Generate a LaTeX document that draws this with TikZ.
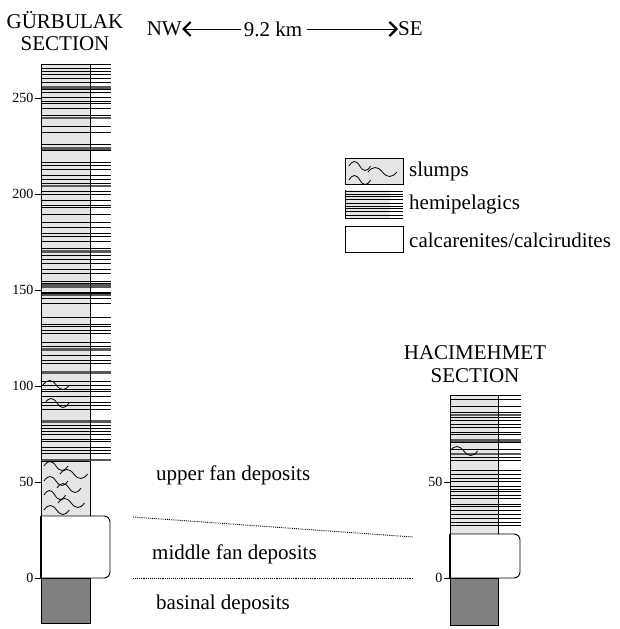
\documentclass[tikz,border=0pt]{standalone}
\usepackage{fontspec}
\setmainfont{Liberation Serif}
\usetikzlibrary{arrows.meta, positioning}
\tikzset{
  lbl/.style={font=\fontsize{21}{22.5}\selectfont, inner sep=0pt, align=center},
  ticklbl/.style={font=\fontsize{14}{15}\selectfont, anchor=east, inner sep=1.5pt},
  hemi/.style={fill=black!10, draw=black, line width=0.9pt},
  hline/.style={draw=black, line width=0.9pt},
  hband/.style={draw=black!65, line width=2.6pt},
  calcbox/.style={fill=white, draw=black, line width=0.9pt, rounded corners=6pt},
  basin/.style={fill=black!50, draw=black, line width=0.9pt},
  wave/.style={draw=black, line width=0.8pt},
  contact/.style={draw=black, densely dotted, line width=0.9pt},
  arrow/.style={-{Straight Barb[length=7pt,width=14pt,line width=2.2pt]}, draw=black, line width=1pt},
  slumpwave/.pic={\draw[wave] (0,0) .. controls (4,-6) and (8,-6) .. (12,0)
                    .. controls (16,6) and (20,6) .. (24,0);},
}

\begin{document}
\begin{tikzpicture}[x=1pt, y=-1pt]
  \useasboundingbox (0,0) rectangle (619,629);

  % titles and scale bar
  \node[lbl] (gtitle) at (65,31) {GÜRBULAK\\SECTION};
  \node[lbl] (htitle) at (475,364) {HACIMEHMET\\SECTION};
  \node[lbl] (km) at (273,29) {9.2 km};
  \node[lbl, anchor=east] (nw) at (182,29) {NW};
  \node[lbl, anchor=west] (se) at (398,29) {SE};
  \draw[arrow] ([xshift=-3pt]km.west) -- (nw.east);
  \draw[arrow] ([xshift=5pt]km.east) -- (se.west);

  % Gurbulak column: hemipelagics
  \fill[black!10] (41,64) rectangle (90,460);
  \pgfmathsetseed{11}
  \foreach \i in {0,...,108}{
    \pgfmathsetmacro\yy{67+3.6*\i+2.2*rnd}
    \pgfmathtruncatemacro\keep{rnd>0.25}
    \ifnum\keep=1 \draw[hline] (41,\yy) -- (111,\yy); \fi
  }
  \foreach \i in {1,...,11}{
    \pgfmathsetmacro\yy{70+380*rnd}
    \draw[hband] (41,\yy) -- (111,\yy);
  }
  \draw[hline] (41,64) -- (111,64);
  \draw[hband] (41,460) -- (111,460);
  \draw[hline] (41,64) -- (41,460) (90,64) -- (90,460);
  \pic[xscale=1.1] at (43,385) {slumpwave};
  \pic at (45,403) {slumpwave};

  % slumps
  \draw[hemi] (41,461) rectangle (90,516);
  \foreach \x/\y/\s in {44/466/1, 60/474/1.15, 44/481/1, 57/488/1, 44/495/0.9, 58/503/1.1, 44/510/1.05}
    \pic[xscale=\s] at (\x,\y) {slumpwave};

  % calcarenites and basinal deposits
  \draw[calcbox] (41,516) -- (110,516) -- (110,578) -- (41,578);
  \draw[line width=1.6pt] (41,516) -- (41,578);
  \draw[basin] (41,578) rectangle (90,623);

  \foreach \v in {0,50,...,250}{
    \draw[line width=0.9pt] (35,578-1.92*\v) -- (41,578-1.92*\v);
    \node[ticklbl] (g\v) at (35,578-1.92*\v) {\v};
  }

  % Hacimehmet column
  \fill[black!10] (450,395) rectangle (498,534);
  \pgfmathsetseed{5}
  \foreach \i in {0,...,36}{
    \pgfmathsetmacro\yy{398+3.6*\i+2.2*rnd}
    \pgfmathtruncatemacro\keep{rnd>0.25}
    \ifnum\keep=1 \draw[hline] (450,\yy) -- (521,\yy); \fi
  }
  \foreach \i in {1,...,3}{
    \pgfmathsetmacro\yy{400+128*rnd}
    \draw[hband] (450,\yy) -- (521,\yy);
  }
  \draw[hline] (450,395) -- (521,395);
  \draw[hline] (450,395) -- (450,534) (498,395) -- (498,534);
  \pic[xscale=1.15] at (450,451) {slumpwave};
  \draw[calcbox] (450,534) -- (520,534) -- (520,578) -- (450,578);
  \draw[line width=1.6pt] (450,534) -- (450,578);
  \draw[basin] (450,578) rectangle (498,625);
  \foreach \v in {0,50}{
    \draw[line width=0.9pt] (444,578-1.92*\v) -- (450,578-1.92*\v);
    \node[ticklbl] (h\v) at (444,578-1.92*\v) {\v};
  }

  % correlation
  \coordinate (ga) at (133,517);
  \coordinate (ha) at (413,537);
  \coordinate (gb) at (133,578);
  \coordinate (hb) at (413,578);
  \draw[contact] (ga) -- (ha);
  \draw[contact] (gb) -- (hb);
  \node[lbl, anchor=west] (upper) at (156,475) {upper fan deposits};
  \node[lbl, anchor=west] (middle) at (152,554) {middle fan deposits};
  \node[lbl, anchor=west] (basinal) at (156,604) {basinal deposits};

  % legend
  \draw[hemi] (345,158) rectangle (403,184);
  \pic[xscale=0.9] at (349,166) {slumpwave};
  \pic[xscale=1.2] at (368,172) {slumpwave};
  \pic[xscale=0.9] at (349,180) {slumpwave};
  \fill[black!10] (345,190) rectangle (390,219);
  \foreach \y in {191,194,196,199,203,206,208,211,215,218}
    \draw[hline] (345,\y) -- (403,\y);
  \draw[hline] (345,190) -- (345,219);
  \draw[hline] (345,226) rectangle (403,252);
  \node[lbl, anchor=west] (lslump) at (409,171) {slumps};
  \node[lbl, anchor=west] (lhemi) at (409,204) {hemipelagics};
  \node[lbl, anchor=west] (lcalc) at (409,240) {calcarenites/calcirudites};
\end{tikzpicture}
\end{document}
